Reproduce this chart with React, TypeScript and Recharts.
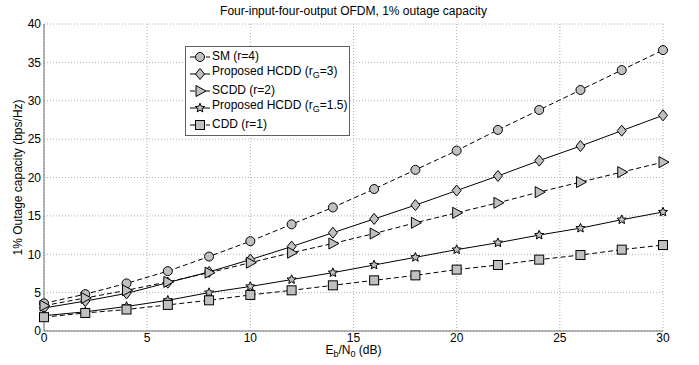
import React from 'react';
import { LineChart, Line, XAxis, YAxis, CartesianGrid, Label } from 'recharts';

const snr = [0, 2, 4, 6, 8, 10, 12, 14, 16, 18, 20, 22, 24, 26, 28, 30];
const sm = [3.6, 4.8, 6.2, 7.8, 9.7, 11.7, 13.9, 16.1, 18.5, 21.0, 23.5, 26.2, 28.8, 31.4, 34.0, 36.6];
const hcdd3 = [3.0, 3.9, 4.9, 6.3, 7.7, 9.3, 11.0, 12.8, 14.6, 16.4, 18.3, 20.2, 22.2, 24.1, 26.1, 28.1];
const scdd = [3.3, 4.3, 5.3, 6.4, 7.6, 8.9, 10.2, 11.4, 12.7, 14.1, 15.4, 16.7, 18.1, 19.4, 20.7, 22.0];
const hcdd15 = [2.0, 2.5, 3.2, 4.0, 5.0, 5.8, 6.7, 7.6, 8.6, 9.6, 10.6, 11.5, 12.5, 13.4, 14.5, 15.5];
const cdd = [1.8, 2.35, 2.8, 3.4, 4.0, 4.7, 5.3, 5.95, 6.6, 7.25, 8.0, 8.6, 9.3, 9.9, 10.6, 11.2];
const xTicks = [0, 5, 10, 15, 20, 25, 30];
const yTicks = [0, 5, 10, 15, 20, 25, 30, 35, 40];

const data = snr.map((x, i) => ({ x, sm: sm[i], hcdd3: hcdd3[i], scdd: scdd[i], hcdd15: hcdd15[i], cdd: cdd[i] }));

const FONT = '"Liberation Sans", Arial, sans-serif';
const FILL = '#c0c0c0';

type Shape = 'circle' | 'diamond' | 'triangle' | 'star' | 'square';

function starPath(cx: number, cy: number, R: number, r: number) {
  let d = '';
  for (let i = 0; i < 10; i++) {
    const a = -Math.PI / 2 + (i * Math.PI) / 5;
    const rad = i % 2 === 0 ? R : r;
    d += (i === 0 ? 'M' : 'L') + (cx + rad * Math.cos(a)).toFixed(2) + ',' + (cy + rad * Math.sin(a)).toFixed(2);
  }
  return d + 'Z';
}

function Marker({ shape, cx, cy }: { shape: Shape; cx: number; cy: number }) {
  const common = { fill: FILL, stroke: '#000', strokeWidth: 1 };
  if (shape === 'circle') return <circle cx={cx} cy={cy} r={4.5} {...common} />;
  if (shape === 'diamond')
    return <path d={`M${cx},${cy - 5.5}L${cx + 4.5},${cy}L${cx},${cy + 5.5}L${cx - 4.5},${cy}Z`} {...common} />;
  if (shape === 'triangle')
    return <path d={`M${cx - 4},${cy - 5.5}L${cx + 6},${cy}L${cx - 4},${cy + 5.5}Z`} {...common} />;
  if (shape === 'star') return <path d={starPath(cx, cy, 4.8, 2.2)} {...common} />;
  return <rect x={cx - 4.5} y={cy - 4.5} width={9} height={9} {...common} />;
}

const series: { key: string; shape: Shape; dash?: string; label: React.ReactNode }[] = [
  { key: 'sm', shape: 'circle', dash: '5 3', label: 'SM (r=4)' },
  { key: 'hcdd3', shape: 'diamond', label: <>Proposed HCDD (r<sub style={{ fontSize: 9 }}>G</sub>=3)</> },
  { key: 'scdd', shape: 'triangle', dash: '5 3', label: 'SCDD (r=2)' },
  { key: 'hcdd15', shape: 'star', label: <>Proposed HCDD (r<sub style={{ fontSize: 9 }}>G</sub>=1.5)</> },
  { key: 'cdd', shape: 'square', dash: '5 3', label: 'CDD (r=1)' },
];

const LegendBox = () => (
  <div
    style={{
      position: 'absolute',
      left: 185,
      top: 46,
      border: '1px solid #606060',
      background: '#fff',
      width: 163,
      padding: '1px 0 2px 0',
      fontFamily: FONT,
      fontSize: 12,
      color: '#000',
      zIndex: 2,
    }}
  >
    {series.map((s) => (
      <div key={s.key} style={{ display: 'flex', alignItems: 'center', height: 17, lineHeight: '17px' }}>
        <svg width={26} height={14} style={{ flex: 'none' }}>
          <line x1={4} y1={7} x2={24} y2={7} stroke="#000" strokeDasharray={s.dash} />
          <Marker shape={s.shape} cx={14} cy={7} />
        </svg>
        <span style={{ whiteSpace: 'nowrap' }}>{s.label}</span>
      </div>
    ))}
  </div>
);

const XLabel = (props: any) => {
  const vb = props.viewBox || { x: 44, y: 331, width: 619, height: 0 };
  const cx = vb.x + vb.width / 2;
  return (
    <text x={cx} y={vb.y + 23} textAnchor="middle" fontFamily={FONT} fontSize={12} fill="#000">
      <tspan>E</tspan>
      <tspan fontSize={9} dy={3}>b</tspan>
      <tspan dy={-3}>/N</tspan>
      <tspan fontSize={9} dy={3}>0</tspan>
      <tspan dy={-3}> (dB)</tspan>
    </text>
  );
};

export default function App() {
  return (
    <div style={{ position: 'absolute', left: 0, top: 0, width: 699, height: 365, background: '#fff' }}>
      <div
        style={{
          position: 'absolute',
          left: 44,
          width: 619,
          top: 4,
          textAlign: 'center',
          fontFamily: FONT,
          fontSize: 12,
          color: '#000',
        }}
      >
        Four-input-four-output OFDM, 1% outage capacity
      </div>
      <LineChart width={699} height={365} data={data} margin={{ top: 24, right: 36, bottom: 0, left: 0 }}>
        <CartesianGrid stroke="#b0b0b0" strokeDasharray="1 2" />
        <XAxis
          dataKey="x"
          type="number"
          domain={[0, 30]}
          ticks={xTicks}
          interval={0}
          stroke="#707070"
          tickLine={false}
          tickSize={0}
          tick={{ fill: '#000', fontSize: 12, fontFamily: FONT }}
          tickMargin={2}
          height={34}
        >
          <Label content={<XLabel />} position="bottom" />
        </XAxis>
        <YAxis
          type="number"
          domain={[0, 40]}
          ticks={yTicks}
          interval={0}
          width={44}
          stroke="#707070"
          tickLine={false}
          tickSize={0}
          tick={{ fill: '#000', fontSize: 12, fontFamily: FONT }}
          tickMargin={3}
        >
          <Label
            value="1% Outage capacity (bps/Hz)"
            angle={-90}
            position="insideLeft"
            offset={18}
            style={{ textAnchor: 'middle', fontFamily: FONT, fontSize: 12, fill: '#000' }}
          />
        </YAxis>
        {series.map((s) => (
          <Line
            key={s.key}
            dataKey={s.key}
            stroke="#000"
            strokeWidth={1}
            strokeDasharray={s.dash}
            isAnimationActive={false}
            dot={(p: any) => <Marker key={`${s.key}-${p.index}`} shape={s.shape} cx={p.cx} cy={p.cy} />}
            activeDot={false}
          />
        ))}
      </LineChart>
      <LegendBox />
    </div>
  );
}
